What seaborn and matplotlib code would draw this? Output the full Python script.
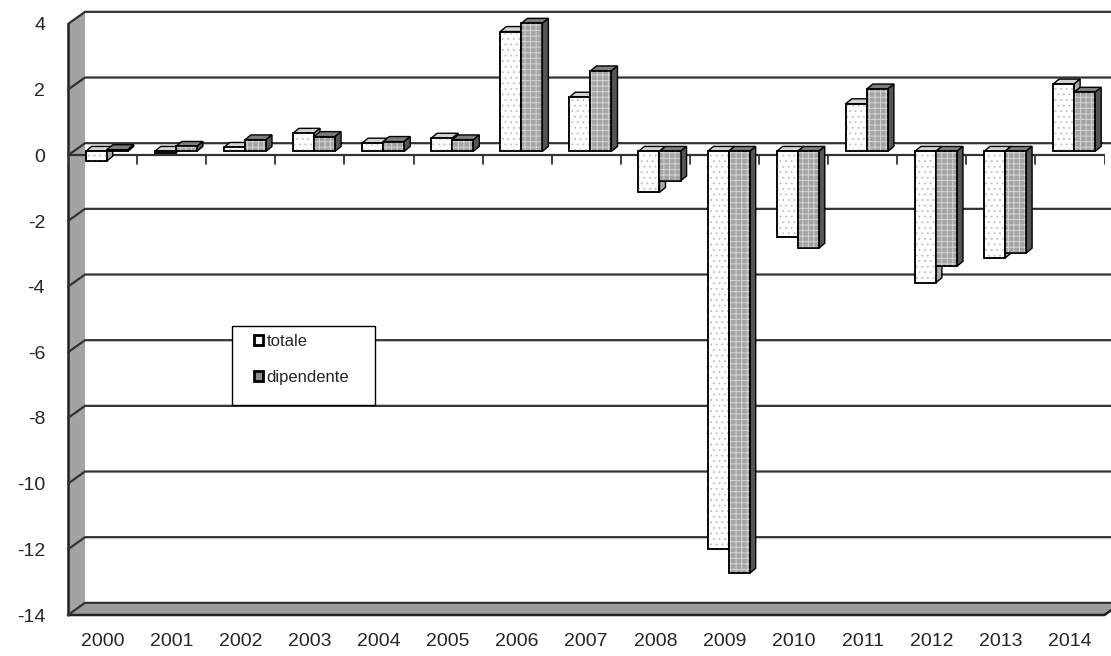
import pandas as pd
import seaborn as sns
import matplotlib.pyplot as plt
from matplotlib.patches import Polygon, Rectangle, Patch

# Dati
anni = [str(a) for a in range(2000, 2015)]
totale = [-0.3, -0.05, 0.12, 0.55, 0.25, 0.4, 3.65, 1.65, -1.25, -12.1, -2.6, 1.45, -4.0, -3.25, 2.05]
dipendente = [0.05, 0.15, 0.35, 0.45, 0.3, 0.35, 3.9, 2.45, -0.9, -12.85, -2.95, 1.9, -3.5, -3.1, 1.8]
serie = ['totale', 'dipendente']
yticks = list(range(-14, 5, 2))

df = pd.DataFrame({
    'anno': anni * 2,
    'valore': totale + dipendente,
    'serie': ['totale'] * len(anni) + ['dipendente'] * len(anni),
})

sns.set_style('white')
plt.rcParams['font.family'] = ['Liberation Sans', 'DejaVu Sans']
plt.rcParams['axes.unicode_minus'] = False
plt.rcParams['hatch.linewidth'] = 0.7

fig = plt.figure(figsize=(11.11, 6.56), dpi=100)
ax = fig.add_axes([68 / 1111, 41 / 656, 1036.5 / 1111, 591 / 656])

face = {'totale': '#ffffff', 'dipendente': '#a4a4a4'}
sns.barplot(data=df, x='anno', y='valore', hue='serie', hue_order=serie,
            palette=face, width=0.61, edgecolor='black', linewidth=1.1,
            legend=False, ax=ax)

ax.set_xlim(-0.5, 14.5)
ax.set_ylim(-14, 4)
ax.set_yticks(yticks)
ax.set_xlabel('')
ax.set_ylabel('')
for s in ax.spines.values():
    s.set_visible(False)
ax.tick_params(axis='y', length=4, width=1.2, color='#222222', pad=12.5, labelsize=14)
ax.tick_params(axis='x', length=0, pad=13, labelsize=14)

# profondita' del "3D"
wdx, wdy = 0.246, 0.37      # muro di fondo
pdx, pdy = 0.06, 0.12       # piano delle barre
bdx, bdy = 0.087, 0.152     # spessore delle barre
grid_c = '#333333'

# muro sinistro e pavimento
ax.add_patch(Polygon([(-0.5, -14), (-0.5, 4), (-0.5 + wdx, 4 + wdy), (-0.5 + wdx, -14 + wdy)],
                     closed=True, facecolor='#a3a3a3', edgecolor='none', zorder=0.5, clip_on=False))
ax.add_patch(Polygon([(-0.5, -14), (14.5, -14), (14.5 + wdx, -14 + wdy), (-0.5 + wdx, -14 + wdy)],
                     closed=True, facecolor='#9c9c9c', edgecolor='none', zorder=0.5, clip_on=False))
ax.plot([-0.5, -0.5], [-14, 4], color='#222222', lw=1.8, zorder=0.6, clip_on=False)
ax.plot([-0.5, 14.5, 14.5 + wdx], [-14, -14, -14 + wdy], color='#222222', lw=1.8, zorder=0.6, clip_on=False)

# griglia sul fondo
for v in yticks:
    ax.plot([-0.5, -0.5 + wdx, 14.5 + wdx + 1], [v, v + wdy, v + wdy],
            color=grid_c, lw=1.6, zorder=0.7, clip_on=False)

# asse delle categorie sullo zero
ax.plot([-0.5, 14.5], [0, 0], color=grid_c, lw=1.6, zorder=0.8)
for k in range(16):
    ax.plot([k - 0.5, k - 0.5], [0, -0.27], color=grid_c, lw=1.3, zorder=0.8)

# facce 3D delle barre
stile = {
    'totale': dict(top='#d2d2d2', side='#a8a8a8', hatch='...', hc='#c4c4c4'),
    'dipendente': dict(top='#7c7c7c', side='#555555', hatch='+++', hc='#d4d4d4'),
}
for i, (nome, cont) in enumerate(zip(serie, ax.containers)):
    st = stile[nome]
    z = 2 + i
    for bar in cont:
        bar.set_x(bar.get_x() + pdx)
        bar.set_y(bar.get_y() + pdy)
        bar.set_clip_on(False)
        x0, y0 = bar.get_x(), bar.get_y()
        x1, y1 = x0 + bar.get_width(), y0 + bar.get_height()
        ylo, yhi = min(y0, y1), max(y0, y1)
        bar.set_zorder(z + 0.2)
        ax.add_patch(Polygon([(x0, yhi), (x1, yhi), (x1 + bdx, yhi + bdy), (x0 + bdx, yhi + bdy)],
                             closed=True, facecolor=st['top'], edgecolor='black', lw=1.0,
                             zorder=z, clip_on=False))
        ax.add_patch(Polygon([(x1, ylo), (x1, yhi), (x1 + bdx, yhi + bdy), (x1 + bdx, ylo + bdy)],
                             closed=True, facecolor=st['side'], edgecolor='black', lw=1.0,
                             zorder=z, clip_on=False))
        ax.add_patch(Rectangle((x0, ylo), x1 - x0, yhi - ylo, fill=False, hatch=st['hatch'],
                               edgecolor=st['hc'], lw=0, zorder=z + 0.3, clip_on=False))
        ax.add_patch(Rectangle((x0, ylo), x1 - x0, yhi - ylo, fill=False,
                               edgecolor='black', lw=1.1, zorder=z + 0.4, clip_on=False))

# legenda
fig.add_artist(Rectangle((232 / 1111, (656 - 405) / 656), 143 / 1111, 79 / 656,
                         transform=fig.transFigure, facecolor='white', edgecolor='black',
                         lw=1.0, zorder=5))
handles = [Patch(facecolor='white', edgecolor='black', lw=2.0),
           Patch(facecolor='#8a8a8a', edgecolor='black', lw=2.0)]
leg = fig.legend(handles, serie, loc='upper left', bbox_to_anchor=(254 / 1111, (656 - 334) / 656),
                 frameon=False, fontsize=12, handlelength=0.55, handleheight=0.55,
                 handletextpad=0.2, labelspacing=1.25, borderpad=0, borderaxespad=0)
leg.set_zorder(6)

fig.savefig('out.png', dpi=100)
